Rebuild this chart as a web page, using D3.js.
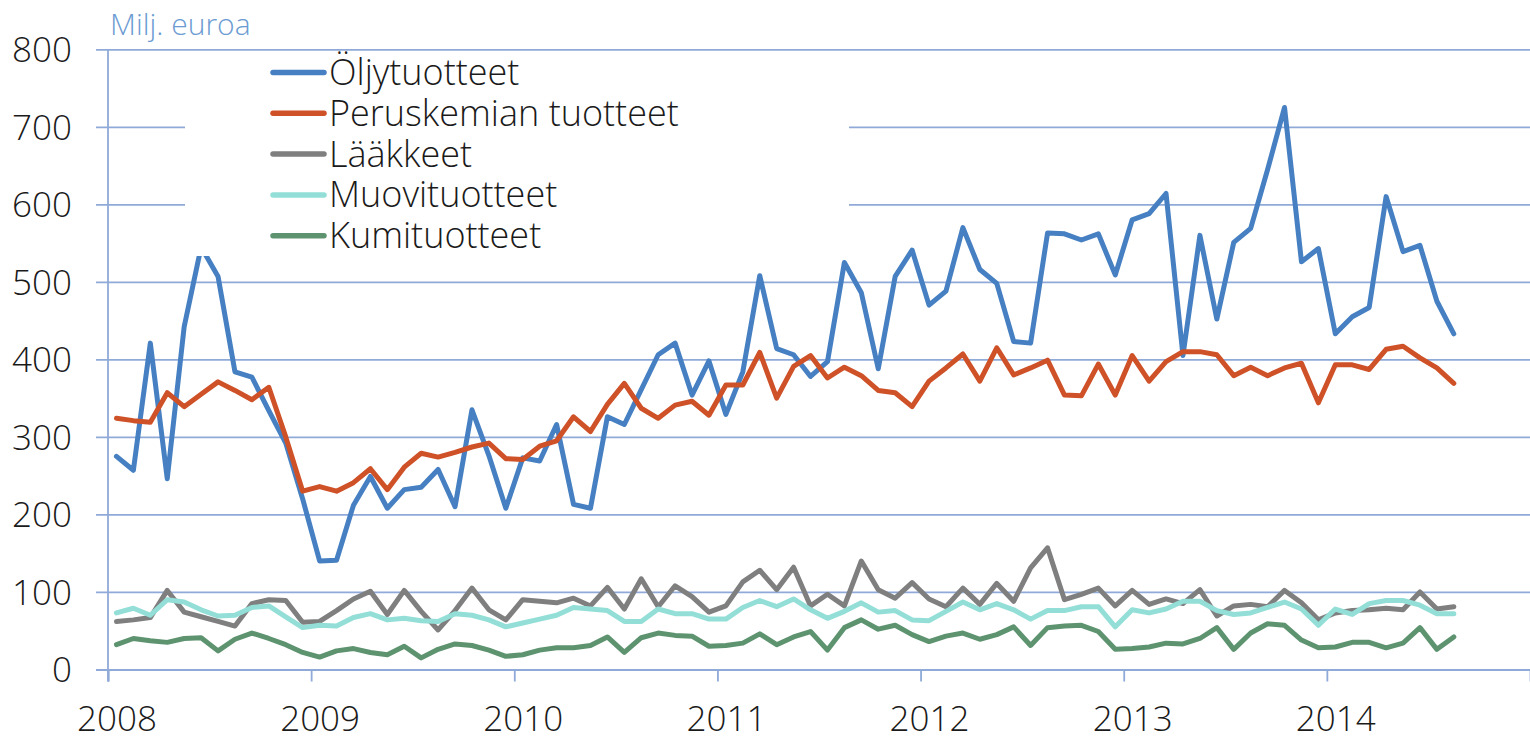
<!DOCTYPE html>
<html>
<head>
<meta charset="utf-8">
<script src="https://cdn.jsdelivr.net/npm/d3@7"></script>
<style>
  html, body { margin: 0; padding: 0; background: #ffffff; }
  svg { display: block; }
  text { font-family: "Open Sans", "DejaVu Sans", sans-serif; font-weight: 300; }
</style>
</head>
<body>
<svg id="chart" width="1530" height="737"></svg>
<script>
// ---- Data (monthly, Jan 2008 – Aug 2014), million euros ----
const yearLabels = ["2008", "2009", "2010", "2011", "2012", "2013", "2014"];
const yTicks = [0, 100, 200, 300, 400, 500, 600, 700, 800];
const unitLabel = "Milj. euroa";
const seriesNames = ["Öljytuotteet", "Peruskemian tuotteet", "Lääkkeet", "Muovituotteet", "Kumituotteet"];

const oljytuotteet = [275,257,421,246,442,545,507,384,377,334,292,220,
  140,141,212,249,208,232,235,258,210,335,276,208,
  273,269,316,213,208,326,316,361,406,421,354,398,
  329,384,508,414,406,378,397,525,486,388,507,541,
  470,488,570,516,498,423,421,563,562,554,562,509,
  580,588,614,405,560,452,551,569,645,725,526,543,
  433,455,467,610,539,547,475,433];
const peruskemia = [324,321,319,357,339,355,371,360,348,364,300,230,
  236,230,241,259,232,261,279,274,280,287,292,272,
  271,288,295,326,307,342,369,337,324,341,346,328,
  367,367,409,350,391,405,376,390,379,360,357,339,
  372,389,407,372,415,380,389,399,354,353,394,354,
  405,372,397,410,410,406,379,390,379,389,395,344,
  393,393,387,413,417,402,389,369];
const laakkeet = [62,64,67,102,74,68,62,56,85,90,89,61,
  62,76,91,101,71,102,75,51,76,105,77,64,
  90,88,86,92,82,106,78,117,81,108,94,74,
  82,113,128,103,132,82,97,82,140,103,92,112,
  91,81,105,84,111,88,131,157,90,97,105,82,
  102,84,91,85,103,69,82,84,81,102,86,64,
  73,76,77,79,77,100,78,81];
const muovi = [73,79,70,90,87,77,69,70,80,82,68,54,
  57,56,67,72,64,66,63,62,72,70,64,55,
  60,65,70,80,78,76,62,62,78,72,72,65,
  65,80,89,81,91,77,66,75,86,74,76,64,
  63,75,87,77,85,77,65,76,76,81,81,55,
  77,73,78,88,88,76,71,73,80,87,78,57,
  78,71,85,89,89,83,72,72];
const kumi = [32,40,37,35,40,41,24,39,47,40,32,22,
  16,24,27,22,19,30,15,26,33,31,25,17,
  19,25,28,28,31,42,22,41,47,44,43,30,
  31,34,46,32,42,49,25,54,64,52,57,45,
  36,43,47,39,45,55,31,54,56,57,49,26,
  27,29,34,33,40,54,26,47,59,57,38,28,
  29,35,35,28,34,54,26,42];

const seriesValues = [oljytuotteet, peruskemia, laakkeet, muovi, kumi];
const colors = ["#4680c2", "#cf5128", "#7f7f7f", "#93dfd8", "#5e9370"];

// ---- Layout ----
const svg = d3.select("#chart");
const plotLeft = 108, plotRight = 1530, plotTop = 49.3, plotBottom = 669.5;
const monthsOnAxis = yearLabels.length * 12; // 84 months, 2008–2014
const gridColor = "#8faad8";

const x = d3.scaleLinear().domain([0, monthsOnAxis]).range([plotLeft, plotRight]);
const y = d3.scaleLinear().domain([0, 800]).range([plotBottom, plotTop]);

// Y gridlines + labels
const yAxis = d3.axisLeft(y)
  .tickValues(yTicks)
  .tickSize(-(plotRight - 96))
  .tickPadding(24)
  .tickFormat(d3.format("d"));
const gy = svg.append("g").attr("transform", "translate(96,0)").call(yAxis);
gy.select(".domain").remove();
gy.selectAll(".tick line").attr("stroke", gridColor).attr("stroke-width", 1.8);
gy.selectAll(".tick text")
  .attr("fill", "#1a1a1a")
  .style("font-size", "35px")
  .attr("dy", "0.35em");

// Y axis vertical line
svg.append("line")
  .attr("x1", plotLeft).attr("x2", plotLeft)
  .attr("y1", plotTop).attr("y2", plotBottom + 12)
  .attr("stroke", gridColor).attr("stroke-width", 1.8);

// X axis ticks at year boundaries
const xAxis = d3.axisBottom(x)
  .tickValues(yearLabels.map((_, i) => i * 12))
  .tickSize(12)
  .tickPadding(0)
  .tickFormat((d, i) => yearLabels[i]);
const gx = svg.append("g").attr("transform", `translate(0,${plotBottom})`).call(xAxis);
gx.select(".domain").attr("stroke", gridColor).attr("stroke-width", 1.8);
gx.selectAll(".tick line").attr("stroke", gridColor).attr("stroke-width", 1.8);
gx.selectAll(".tick text")
  .attr("fill", "#1a1a1a")
  .style("font-size", "35px")
  .attr("dx", (x(1) - x(0)) / 2)
  .attr("y", 61)
  .attr("dy", 0);

// Series lines
const line = d3.line()
  .x((d, i) => x(i + 0.5))
  .y(d => y(d));
seriesValues.forEach((vals, k) => {
  svg.append("path")
    .datum(vals)
    .attr("fill", "none")
    .attr("stroke", colors[k])
    .attr("stroke-width", 5)
    .attr("stroke-linejoin", "round")
    .attr("stroke-linecap", "round")
    .attr("d", line);
});

// Legend (opaque box covering gridlines)
const lg = svg.append("g");
lg.append("rect")
  .attr("x", 185).attr("y", 53)
  .attr("width", 664).attr("height", 203)
  .attr("fill", "#ffffff");
seriesNames.forEach((name, k) => {
  const cy = 72.5 + k * 40.8;
  lg.append("line")
    .attr("x1", 273).attr("x2", 324)
    .attr("y1", cy).attr("y2", cy)
    .attr("stroke", colors[k])
    .attr("stroke-width", 5.5)
    .attr("stroke-linecap", "round");
  lg.append("text")
    .attr("x", 329).attr("y", cy + 12.5)
    .attr("fill", "#1a1a1a")
    .style("font-size", "36px")
    .text(name);
});

// Unit label
svg.append("text")
  .attr("x", 110).attr("y", 35)
  .attr("fill", "#6b9bd2")
  .style("font-size", "30px")
  .text(unitLabel);
</script>
</body>
</html>
